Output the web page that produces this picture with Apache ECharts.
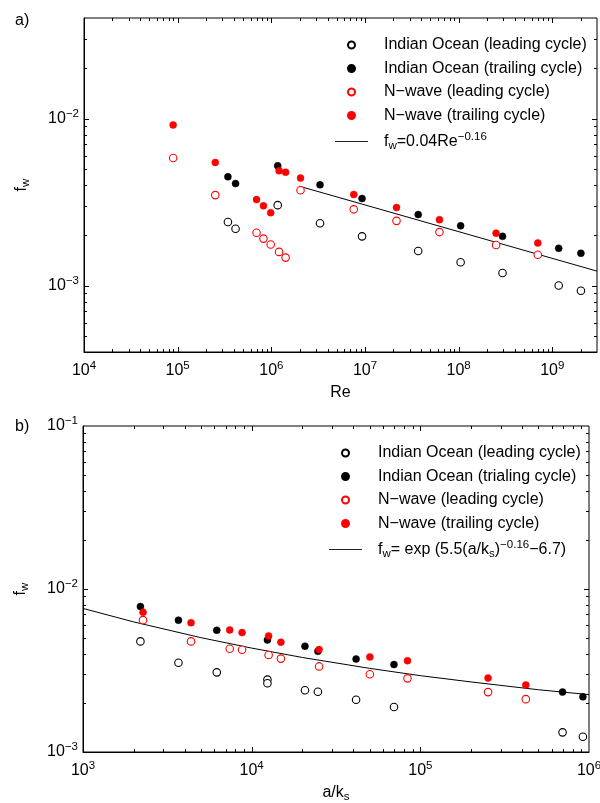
<!DOCTYPE html>
<html>
<head>
<meta charset="utf-8">
<script src="https://cdn.jsdelivr.net/npm/echarts@6/dist/echarts.min.js"></script>
<style>html,body{margin:0;padding:0;background:#fff}#c{width:600px;height:803px}</style>
</head>
<body>
<div id="c"></div>
<script>
// ---------- Panel a data: [Re, f_w] ----------
const aIndianLead = [[3.44e5,2.40e-3],[4.15e5,2.19e-3],[1.17e6,3.03e-3],[3.31e6,2.36e-3],[9.3e6,1.97e-3],[3.7e7,1.61e-3],[1.05e8,1.38e-3],[2.94e8,1.19e-3],[1.17e9,1.0e-3],[2.02e9,9.3e-4]];
const aIndianTrail = [[3.44e5,4.48e-3],[4.15e5,4.08e-3],[1.17e6,5.21e-3],[3.31e6,4.01e-3],[9.3e6,3.32e-3],[3.7e7,2.66e-3],[1.05e8,2.28e-3],[2.94e8,1.97e-3],[1.17e9,1.67e-3],[2.02e9,1.56e-3]];
const aNwaveLead = [[8.95e4,5.81e-3],[2.52e5,3.48e-3],[6.95e5,2.07e-3],[8.24e5,1.91e-3],[9.85e5,1.76e-3],[1.21e6,1.59e-3],[1.42e6,1.47e-3],[2.05e6,3.72e-3],[7.59e6,2.86e-3],[2.17e7,2.44e-3],[6.24e7,2.09e-3],[2.51e8,1.75e-3],[7.0e8,1.53e-3]];
const aNwaveTrail = [[8.95e4,9.16e-3],[2.52e5,5.46e-3],[6.95e5,3.27e-3],[8.24e5,3.00e-3],[9.85e5,2.73e-3],[1.21e6,4.87e-3],[1.42e6,4.77e-3],[2.05e6,4.40e-3],[7.59e6,3.51e-3],[2.17e7,2.93e-3],[6.24e7,2.48e-3],[2.51e8,2.06e-3],[7.0e8,1.80e-3]];
const aFit = [[2.0e6,3.93e-3],[3.0e9,1.22e-3]];

// ---------- Panel b data: [a/ks, f_w] ----------
const bIndianLead = [[2.19e3,4.77e-3],[3.68e3,3.53e-3],[6.21e3,3.08e-3],[1.24e4,2.78e-3],[1.24e4,2.64e-3],[2.07e4,2.39e-3],[2.47e4,2.34e-3],[4.16e4,2.09e-3],[6.98e4,1.89e-3],[6.97e5,1.32e-3],[9.2e5,1.24e-3]];
const bIndianTrail = [[2.19e3,7.80e-3],[3.68e3,6.44e-3],[6.21e3,5.58e-3],[1.24e4,4.87e-3],[2.07e4,4.46e-3],[2.47e4,4.15e-3],[4.16e4,3.72e-3],[6.98e4,3.44e-3],[6.97e5,2.33e-3],[9.2e5,2.18e-3]];
const bNwaveLead = [[2.27e3,6.44e-3],[4.37e3,4.77e-3],[7.41e3,4.30e-3],[8.77e3,4.24e-3],[1.26e4,3.94e-3],[1.49e4,3.74e-3],[2.51e4,3.35e-3],[5.02e4,3.00e-3],[8.39e4,2.83e-3],[2.52e5,2.33e-3],[4.22e5,2.11e-3]];
const bNwaveTrail = [[2.27e3,7.19e-3],[4.37e3,6.21e-3],[7.41e3,5.61e-3],[8.77e3,5.40e-3],[1.26e4,5.15e-3],[1.49e4,4.72e-3],[2.51e4,4.25e-3],[5.02e4,3.83e-3],[8.39e4,3.63e-3],[2.52e5,2.84e-3],[4.22e5,2.58e-3]];
const bFit = [[1e3,7.60e-3],[2e3,6.28e-3],[5e3,5.03e-3],[1e4,4.34e-3],[2e4,3.80e-3],[5e4,3.26e-3],[1e5,2.94e-3],[2e5,2.69e-3],[5e5,2.41e-3],[1e6,2.25e-3]];

// ---------- names / labels ----------
const namesA = ['Indian Ocean (leading cycle)','Indian Ocean (trailing cycle)','N\u2212wave (leading cycle)','N\u2212wave (trailing cycle)','fitA'];
const namesB = ['Indian Ocean (leading cycle) ','Indian Ocean (trialing cycle)','N\u2212wave (leading cycle) ','N\u2212wave (trailing cycle) ','fitB'];
const fitLabelA = '{t|f}{sub|w}{t|=0.04Re}{sup|\u22120.16}';
const fitLabelB = '{t|f}{sub|w}{t|= exp (5.5(a/k}{sub|s}{t|)}{sup|\u22120.16}{t|\u22126.7)}';
const panelLabels = ['a)','b)'];
const xNameA = 'Re';
const xNameB = '{t|a/k}{sub|s}';
const yName = '{t|f}{sub|w}';

const axA = {xmin:1e4, xmax:3e9, ymin:4e-4, ymax:4e-2};
const axB = {xmin:1e3, xmax:1e6, ymin:1e-3, ymax:1e-1};

const FONT = 'Liberation Sans, Arial, Helvetica, sans-serif';
const richSS = {
  t:{fontSize:16, fontFamily:FONT, color:'#000'},
  sub:{fontSize:11.5, fontFamily:FONT, color:'#000', padding:[9,0,0,0]},
  sup:{fontSize:11.5, fontFamily:FONT, color:'#000', padding:[0,0,9,0]}
};
const richTick = {
  b:{fontSize:16, fontFamily:FONT, color:'#000'},
  s:{fontSize:11.5, fontFamily:FONT, color:'#000', padding:[0,0,10,0]}
};
function tickFmt(v){
  const e = Math.log10(v), r = Math.round(e);
  if (Math.abs(e - r) > 1e-6) return '';
  return '{b|10}{s|' + (r < 0 ? '\u2212' + (-r) : r) + '}';
}
function minorData(ax){
  const out = [];
  for (let n = Math.floor(Math.log10(ax.xmin)); n <= Math.ceil(Math.log10(ax.xmax)); n++)
    for (let k = 1; k <= 9; k++){ const v = k*Math.pow(10,n); if (v > ax.xmin*1.0001 && v < ax.xmax*0.9999) out.push([v, ax.ymin, k===1?1:0]); }
  for (let n = Math.floor(Math.log10(ax.ymin)); n <= Math.ceil(Math.log10(ax.ymax)); n++)
    for (let k = 1; k <= 9; k++){ const v = k*Math.pow(10,n); if (v > ax.ymin*1.0001 && v < ax.ymax*0.9999) out.push([ax.xmin, v, k===1?3:2]); }
  return out;
}
function tickRender(params, api){
  const cs = params.coordSys;
  const kind = api.value(2);
  const len = (kind === 1 || kind === 3) ? 5 : 3;
  const st = {stroke:'#000', lineWidth:1};
  const p = api.coord([api.value(0), api.value(1)]);
  if (kind < 2){
    const x = Math.round(p[0]) + 0.5;
    return {type:'group', children:[
      {type:'line', shape:{x1:x, y1:cs.y+cs.height, x2:x, y2:cs.y+cs.height-len}, style:st},
      {type:'line', shape:{x1:x, y1:cs.y, x2:x, y2:cs.y+len}, style:st}]};
  }
  const y = Math.round(p[1]) + 0.5;
  return {type:'group', children:[
    {type:'line', shape:{x1:cs.x, y1:y, x2:cs.x+len, y2:y}, style:st},
    {type:'line', shape:{x1:cs.x+cs.width, y1:y, x2:cs.x+cs.width-len, y2:y}, style:st}]};
}
function xAx(gi, ax, name, gap){
  return {type:'log', logBase:10, gridIndex:gi, min:ax.xmin, max:ax.xmax,
    axisLine:{lineStyle:{color:'#000', width:1}}, axisTick:{show:false}, splitLine:{show:false}, minorTick:{show:false},
    axisLabel:{formatter:tickFmt, rich:richTick, margin:8, color:'#000', hideOverlap:false},
    name:name, nameLocation:'middle', nameGap:gap, nameTextStyle:{fontSize:16, fontFamily:FONT, color:'#000', rich:richSS}};
}
function yAx(gi, ax){
  return {type:'log', logBase:10, gridIndex:gi, min:ax.ymin, max:ax.ymax,
    axisLine:{lineStyle:{color:'#000', width:1}}, axisTick:{show:false}, splitLine:{show:false},
    axisLabel:{formatter:tickFmt, rich:richTick, margin:5, color:'#000', hideOverlap:false},
    name:yName, nameLocation:'middle', nameGap:52, nameTextStyle:{fontSize:16, fontFamily:FONT, color:'#000', rich:richSS}};
}
function scat(name, data, gi, color, filled){
  return {type:'scatter', name:name, data:data, xAxisIndex:gi, yAxisIndex:gi, symbol:'circle', symbolSize:filled?7:7.5, z:5,
    itemStyle: filled ? {color:color, borderColor:color, borderWidth:0.5, opacity:1} : {color:'#fff', borderColor:color, borderWidth:1.1, opacity:1}};
}
function fit(name, data, gi){
  return {type:'line', name:name, data:data, xAxisIndex:gi, yAxisIndex:gi, symbol:'none', showSymbol:false, smooth:false, z:3,
    lineStyle:{color:'#000', width:1}, itemStyle:{color:'#000'}};
}
const LINE_ICON = 'path://M0,0 H33 V1 H0 Z';
function legend(names, left, top, fitName, fitLabel){
  const data = names.map(n => n === fitName ? {name:n, icon:LINE_ICON, itemStyle:{color:'#222', borderWidth:0}} : n);
  return {orient:'vertical', left:left, top:top, padding:0, itemGap:7.5, itemWidth:33, itemHeight:7,
    data:data, selectedMode:false,
    formatter: n => n === fitName ? fitLabel : '{t|' + n.trim() + '}',
    textStyle:{fontSize:16, fontFamily:FONT, color:'#000', padding:[0,0,0,11], rich:richSS}};
}

const option = {
  animation:false,
  backgroundColor:'#fff',
  textStyle:{fontFamily:FONT},
  title:[
    {text:panelLabels[0], left:10, top:8, textStyle:{fontSize:16, fontWeight:'normal', fontFamily:FONT, color:'#000'}},
    {text:panelLabels[1], left:10, top:414, textStyle:{fontSize:16, fontWeight:'normal', fontFamily:FONT, color:'#000'}}
  ],
  grid:[
    {left:84, top:18, width:513, height:334, show:true, borderColor:'#000', borderWidth:1, backgroundColor:'transparent', outerBoundsMode:'none', containLabel:false},
    {left:83, top:426, width:506, height:326, show:true, borderColor:'#000', borderWidth:1, backgroundColor:'transparent', outerBoundsMode:'none', containLabel:false}
  ],
  xAxis:[xAx(0, axA, xNameA, 33), xAx(1, axB, xNameB, 30)],
  yAxis:[yAx(0, axA), yAx(1, axB)],
  legend:[
    legend(namesA, 335, 37, 'fitA', fitLabelA),
    legend(namesB, 329, 445, 'fitB', fitLabelB)
  ],
  series:[
    fit('fitA', aFit, 0),
    scat(namesA[0], aIndianLead, 0, '#000', false),
    scat(namesA[1], aIndianTrail, 0, '#000', true),
    scat(namesA[2], aNwaveLead, 0, '#ff0000', false),
    scat(namesA[3], aNwaveTrail, 0, '#ff0000', true),
    fit('fitB', bFit, 1),
    scat(namesB[0], bIndianLead, 1, '#000', false),
    scat(namesB[1], bIndianTrail, 1, '#000', true),
    scat(namesB[2], bNwaveLead, 1, '#ff0000', false),
    scat(namesB[3], bNwaveTrail, 1, '#ff0000', true),
    {type:'custom', name:'ticksA', xAxisIndex:0, yAxisIndex:0, data:minorData(axA), renderItem:tickRender, silent:true, z:10, clip:false},
    {type:'custom', name:'ticksB', xAxisIndex:1, yAxisIndex:1, data:minorData(axB), renderItem:tickRender, silent:true, z:10, clip:false}
  ]
};
const chart = echarts.init(document.getElementById('c'), null, {renderer:'canvas'});
chart.setOption(option);
</script>
</body>
</html>
